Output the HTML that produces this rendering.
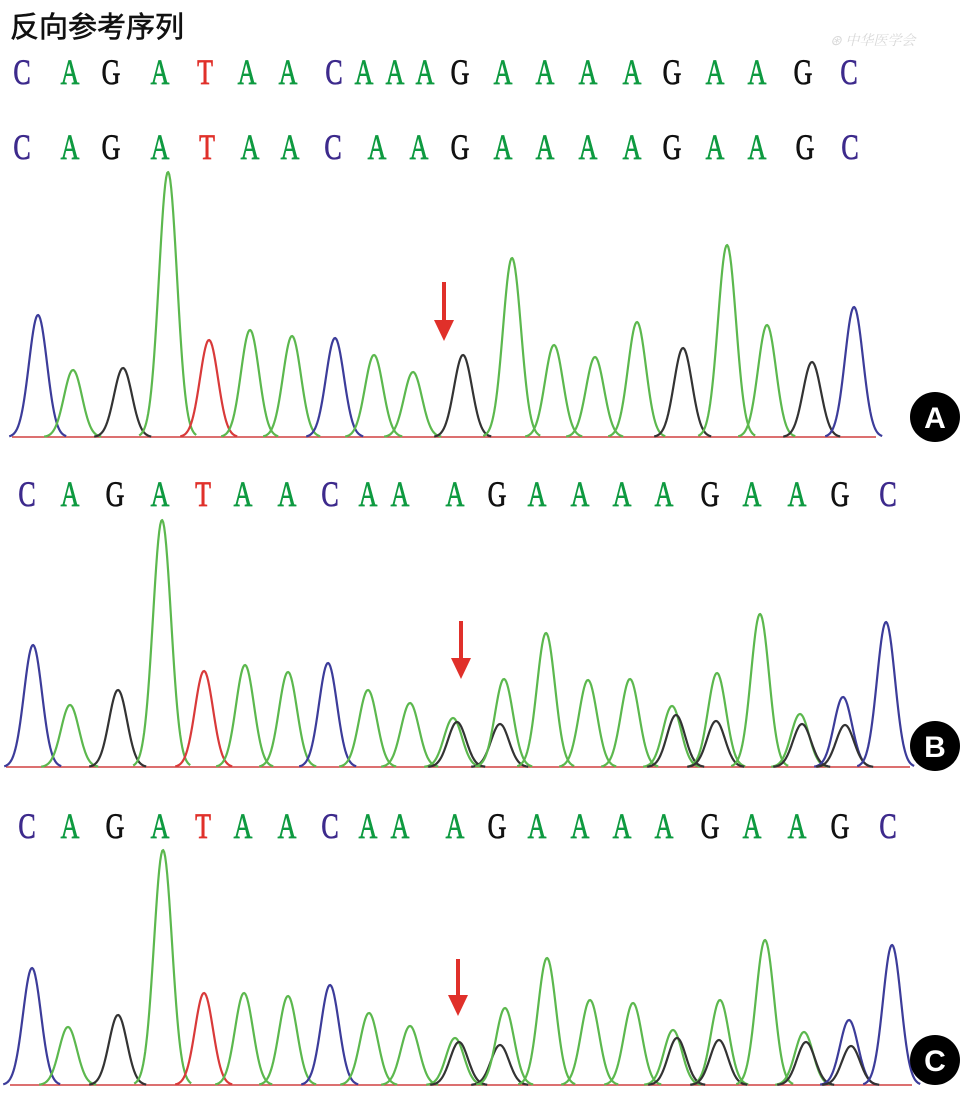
<!DOCTYPE html>
<html><head><meta charset="utf-8"><style>
html,body{margin:0;padding:0;background:#fff;}
svg{display:block;}
.t{font-family:"Liberation Sans","Noto Sans CJK SC",sans-serif;font-size:29px;fill:#111;stroke:#111;stroke-width:0.6;}
.l{font-family:"Liberation Serif",serif;font-size:36px;stroke-width:0.8;}
.c{font-family:"Liberation Sans",sans-serif;font-size:30px;font-weight:bold;fill:#fff;}
</style></head><body>
<svg id="s" width="965" height="1104" viewBox="0 0 965 1104" xmlns="http://www.w3.org/2000/svg">
<text class="t" x="10" y="37">反向参考序列</text>
<text x="830" y="45" font-family="Noto Serif CJK SC,serif" font-size="14" fill="#d8d8d8" font-style="italic">⊛ 中华医学会</text>
<g id="letters"></g>
<g id="peaks" fill="none" stroke-width="2.2" stroke-linejoin="round"></g>
<g fill="#e0302a" stroke="#e0302a">
<line x1="444" y1="282" x2="444" y2="324" stroke-width="4"/><polygon points="434,320 454,320 444,341" stroke="none"/>
<line x1="461" y1="621" x2="461" y2="662" stroke-width="4"/><polygon points="451,658 471,658 461,679" stroke="none"/>
<line x1="458" y1="959" x2="458" y2="999" stroke-width="4"/><polygon points="448,995 468,995 458,1016" stroke="none"/>
</g>
<circle cx="935" cy="417" r="25" fill="#000"/><text class="c" x="935" y="428" text-anchor="middle">A</text>
<circle cx="935" cy="746" r="25" fill="#000"/><text class="c" x="935" y="757" text-anchor="middle">B</text>
<circle cx="935" cy="1060" r="25" fill="#000"/><text class="c" x="935" y="1071" text-anchor="middle">C</text>
</svg>
<script>
var NS="http://www.w3.org/2000/svg";
var col={C:"#3d2a8c",A:"#0e9a40",G:"#111",T:"#e0302a"};
var pk={C:"#3c3c9a",A:"#5cb84e",G:"#333",T:"#d93a3a"};
function row(seq,xs,y){var g=document.getElementById("letters");
for(var i=0;i<seq.length;i++){var t=document.createElementNS(NS,"text");t.setAttribute("class","l");
t.setAttribute("transform","translate("+xs[i]+","+y+") scale(0.72,1)");t.setAttribute("text-anchor","middle");
t.setAttribute("fill",col[seq[i]]);t.setAttribute("stroke",col[seq[i]]);t.textContent=seq[i];g.appendChild(t);}}
row("CAGATAACAAAGAAAAGAAGC",[22,70,111,160,205,247,288,334,364,395,425,460,503,545,588,632,672,715,757,803,849],84);
row("CAGATAACAAGAAAAGAAGC",[22,70,111,160,207,250,290,333,377,419,460,503,545,588,632,672,715,757,805,850],159);
var r3=[27,70,115,160,203,243,287,330,368,400,455,497,537,580,622,664,710,752,797,840,888];
row("CAGATAACAAAGAAAAGAAGC",r3,506);
row("CAGATAACAAAGAAAAGAAGC",r3,838);
var P=document.getElementById("peaks");
function peak(x,top,base,c,s){s=s||9;var h=base-top,d="";
for(var dx=-3.2*s;dx<=3.2*s;dx+=1){var y=base-h*Math.exp(-dx*dx/(2*s*s));d+=(d?"L":"M")+(x+dx).toFixed(1)+","+y.toFixed(1);}
var p=document.createElementNS(NS,"path");p.setAttribute("d",d);p.setAttribute("stroke",pk[c]);P.appendChild(p);}
function base(x1,x2,y){var l=document.createElementNS(NS,"line");l.setAttribute("x1",x1);l.setAttribute("x2",x2);l.setAttribute("y1",y);l.setAttribute("y2",y);l.setAttribute("stroke","#d04040");l.setAttribute("stroke-width","1.5");P.appendChild(l);}
var bA=437;base(12,876,bA);
[[38,315,"C"],[73,370,"A"],[123,368,"G"],[168,172,"A"],[209,340,"T"],[250,330,"A"],[292,336,"A"],[335,338,"C"],[374,355,"A"],[413,372,"A"],[463,355,"G"],[512,258,"A"],[554,345,"A"],[595,357,"A"],[637,322,"A"],[683,348,"G"],[727,245,"A"],[767,325,"A"],[812,362,"G"],[854,307,"C"]].forEach(function(a){peak(a[0],a[1],bA,a[2]);});
var bB=767;base(6,910,bB);
[[33,645,"C"],[70,705,"A"],[118,690,"G"],[162,520,"A"],[204,671,"T"],[245,665,"A"],[288,672,"A"],[328,663,"C"],[368,690,"A"],[410,703,"A"],[453,718,"A"],[457,722,"G"],[500,724,"G"],[504,679,"A"],[546,633,"A"],[588,680,"A"],[630,679,"A"],[672,706,"A"],[676,715,"G"],[717,673,"A"],[716,721,"G"],[760,614,"A"],[800,714,"A"],[802,724,"G"],[843,697,"C"],[845,725,"G"],[886,622,"C"]].forEach(function(a){peak(a[0],a[1],bB,a[2]);});
var bC=1085;base(10,912,bC);
[[32,968,"C"],[68,1027,"A"],[118,1015,"G"],[163,850,"A"],[204,993,"T"],[244,993,"A"],[288,996,"A"],[330,985,"C"],[369,1013,"A"],[410,1026,"A"],[455,1038,"A"],[459,1042,"G"],[500,1045,"G"],[505,1008,"A"],[547,958,"A"],[590,1000,"A"],[633,1003,"A"],[673,1030,"A"],[677,1038,"G"],[720,1000,"A"],[719,1040,"G"],[765,940,"A"],[804,1032,"A"],[806,1042,"G"],[849,1020,"C"],[851,1046,"G"],[892,945,"C"]].forEach(function(a){peak(a[0],a[1],bC,a[2]);});
</script>
</body></html>
